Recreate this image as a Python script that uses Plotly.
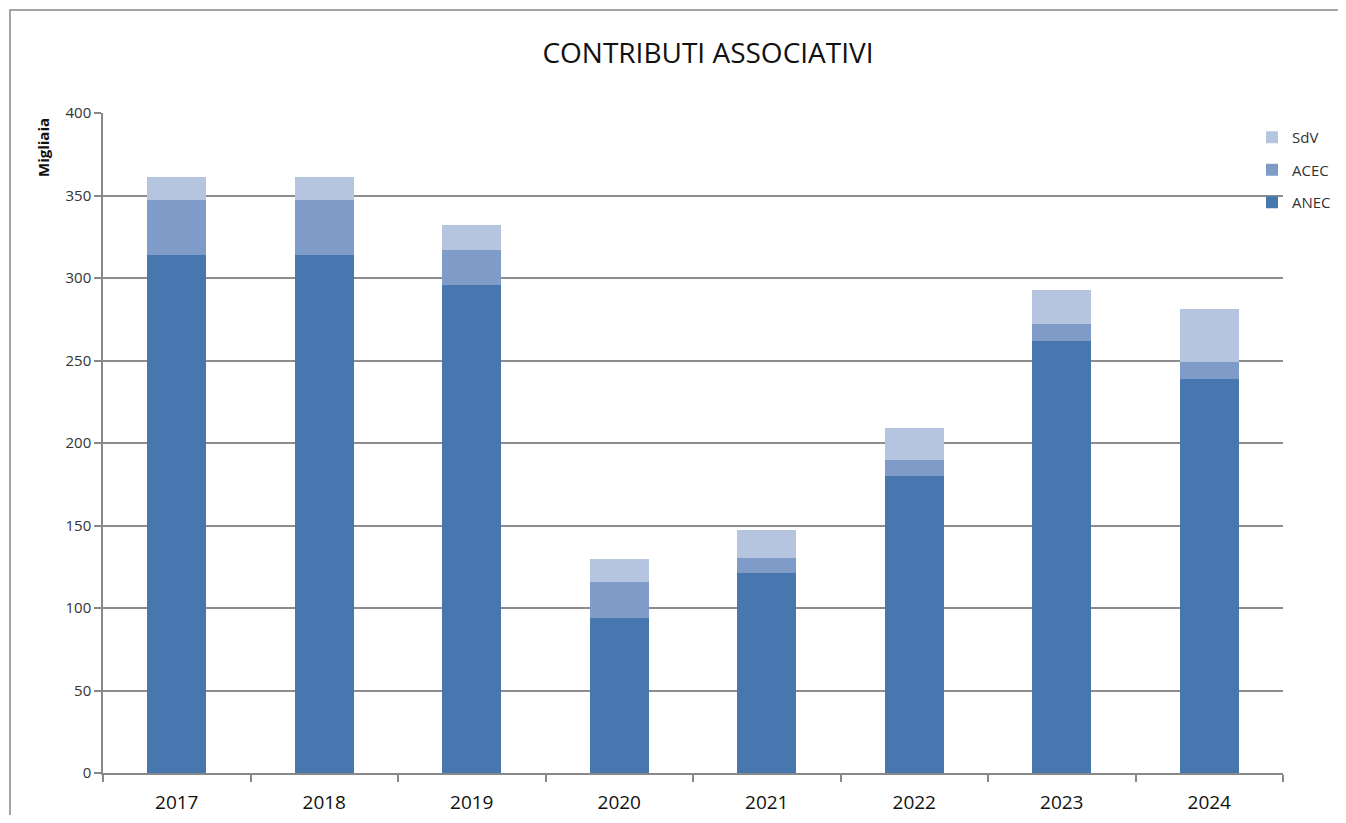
import plotly.graph_objects as go

years = ["2017", "2018", "2019", "2020", "2021", "2022", "2023", "2024"]
anec = [314, 314, 296, 94, 121, 180, 262, 239]
acec = [33, 33, 21, 22, 9.5, 10, 10, 10]
sdv = [14, 14, 15, 14, 17, 19, 20.5, 32]
y_ticks = [0, 50, 100, 150, 200, 250, 300, 350, 400]

series = [("ANEC", anec, "#4877B0", 3), ("ACEC", acec, "#7F9CC8", 2), ("SdV", sdv, "#B5C4DF", 1)]

fig = go.Figure()
for name, vals, col, rank in series:
    fig.add_trace(go.Bar(
        x=years, y=vals, name=name, legendgroup=name, legendrank=rank,
        marker=dict(color=col, line=dict(width=0)),
    ))

# page has an 8px body margin; figure coordinates are offset accordingly
OFF = 8
W, H = 1346 - 2 * OFF, 823 - 2 * OFF
L, T = 103 - OFF, 113 - OFF
R = W - (1283 - OFF)
B = H - (773 - OFF)
pw, ph = W - L - R, H - T - B

def px_x(p):
    return (p - OFF - L) / pw

def px_y(p):
    return (H - B - (p - OFF)) / ph

fig.update_layout(
    width=W, height=H,
    margin=dict(l=L, r=R, t=T, b=B, autoexpand=False),
    barmode="stack", bargap=0.6,
    plot_bgcolor="white", paper_bgcolor="white",
    font=dict(family="Open Sans", color="#222"),
    title=dict(text="CONTRIBUTI ASSOCIATIVI", x=(708 - OFF) / W, xanchor="center",
               y=1 - (53 - OFF) / H, yanchor="middle", xref="container", yref="container",
               font=dict(size=28, color="#111")),
    legend=dict(xref="container", yref="container",
                x=(1252 - OFF) / W, y=1 - (121 - OFF) / H, xanchor="left", yanchor="top",
                traceorder="grouped", tracegroupgap=10,
                font=dict(size=15, color="#333"), bgcolor="rgba(0,0,0,0)",
                itemwidth=30),
    showlegend=True,
    xaxis=dict(showline=True, linecolor="#888", linewidth=1.5,
               ticks="outside", tickson="boundaries", ticklen=7, tickcolor="#888",
               tickwidth=1.5, tickfont=dict(size=19, color="#111"),
               ticklabelstandoff=11, showgrid=False),
    yaxis=dict(range=[0, 400], tickvals=y_ticks, showline=True, linecolor="#888",
               linewidth=1.5, ticks="outside", ticklen=7, tickcolor="#888", tickwidth=1.5,
               showgrid=True, gridcolor="#8c8c8c", gridwidth=1.5,
               tickfont=dict(size=15, color="#333"), zeroline=False),
    annotations=[dict(text="<b>Migliaia</b>", textangle=-90, x=px_x(43), y=px_y(147),
                      xref="paper", yref="paper", xanchor="center", yanchor="middle",
                      showarrow=False, font=dict(size=15, color="#111"))],
    shapes=[dict(type="path", xref="paper", yref="paper",
                 path=f"M {px_x(10)},{px_y(900)} L {px_x(10)},{px_y(10)} L {px_x(1400)},{px_y(10)}",
                 line=dict(color="#888", width=1.5))],
)

fig.write_html("out.html")
